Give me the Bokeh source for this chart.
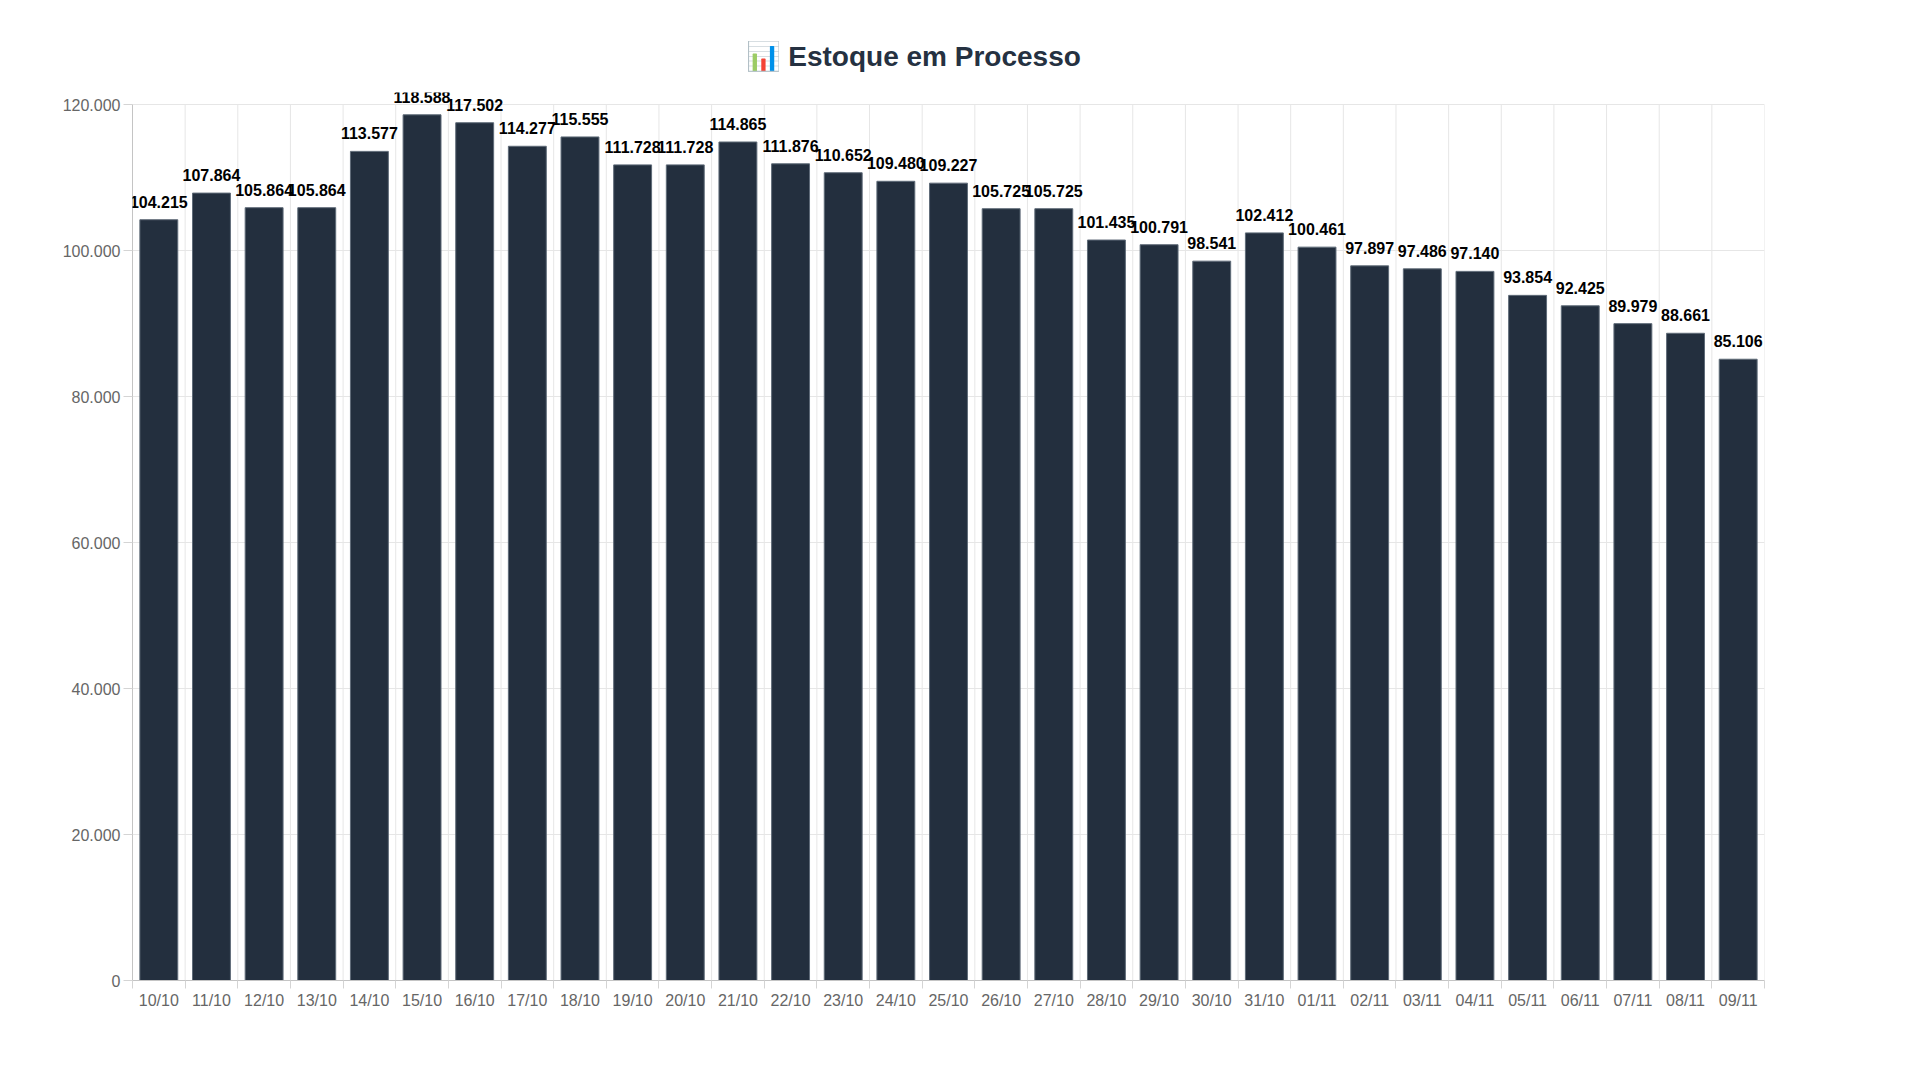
from bokeh.plotting import figure
from bokeh.models import ColumnDataSource, FixedTicker, Range1d, LabelSet, Title
from bokeh.core.properties import value
from bokeh.embed import file_html
from bokeh.resources import INLINE

dates = ["10/10", "11/10", "12/10", "13/10", "14/10", "15/10", "16/10", "17/10",
         "18/10", "19/10", "20/10", "21/10", "22/10", "23/10", "24/10", "25/10",
         "26/10", "27/10", "28/10", "29/10", "30/10", "31/10", "01/11", "02/11",
         "03/11", "04/11", "05/11", "06/11", "07/11", "08/11", "09/11"]
estoque = [104215, 107864, 105864, 105864, 113577, 118588, 117502, 114277,
           115555, 111728, 111728, 114865, 111876, 110652, 109480, 109227,
           105725, 105725, 101435, 100791, 98541, 102412, 100461, 97897,
           97486, 97140, 93854, 92425, 89979, 88661, 85106]
y_ticks = [0, 20000, 40000, 60000, 80000, 100000, 120000]
y_tick_labels = ["0", "20.000", "40.000", "60.000", "80.000", "100.000", "120.000"]
y_max = 120000

def fmt(v):
    return f"{v:,}".replace(",", ".")

n = len(dates)
centers = [i + 0.5 for i in range(n)]
bounds = [float(i) for i in range(n + 1)]

# frame: axis area 876 px tall, plus 12 px headroom where value labels may show
axis_px = 876
head_px = 12
y_end = y_max * (axis_px + head_px) / axis_px

src = ColumnDataSource(dict(x=centers, y=estoque, lab=[fmt(v) for v in estoque]))
gsrc = ColumnDataSource(dict(x=bounds, y0=[0] * len(bounds), y1=[y_max] * len(bounds)))

p = figure(width=1904, height=1064, output_backend="svg", toolbar_location=None,
           x_range=Range1d(0, n), y_range=Range1d(0, y_end),
           min_border_left=132, min_border_right=140, min_border_top=92,
           min_border_bottom=84)
p.outline_line_color = None
p.background_fill_color = "white"
p.border_fill_color = "white"

FONT = "Liberation Sans"
t = Title(text="📊 Estoque em Processo", align="left", offset=613,
          text_font=FONT, text_font_size="28px", text_font_style="bold",
          text_color="#253141", standoff=41)
p.add_layout(t, "above")

# vertical grid lines at category boundaries (stop at the top tick)
p.segment(x0="x", y0="y0", x1="x", y1="y1", source=gsrc,
          line_color="#e6e6e6", line_width=1, level="underlay")

p.vbar(x="x", top="y", width=0.72, source=src, fill_color="#232f3e",
       line_color="#5f6b78", line_width=1)

labels = LabelSet(x="x", y="y", text="lab", source=src, text_align="center",
                  text_baseline="alphabetic", y_offset=12,
                  text_font=value(FONT), text_font_size=value("16px"),
                  text_font_style="bold", text_color="#000000")
p.add_layout(labels)

xt = FixedTicker(ticks=centers, minor_ticks=bounds)
p.xaxis.ticker = xt
p.xaxis.major_label_overrides = {c: d for c, d in zip(centers, dates)}
p.xaxis.major_tick_line_color = None
p.xaxis.major_tick_out = 8
p.xaxis.major_tick_in = 0
p.xaxis.minor_tick_line_color = "#d4d4d4"
p.xaxis.minor_tick_out = 8
p.xaxis.minor_tick_in = 0
p.xaxis.axis_line_color = "#c4c4c4"
p.xaxis.major_label_standoff = 3
p.xaxis.major_label_text_font = FONT
p.xaxis.major_label_text_font_size = "16px"
p.xaxis.major_label_text_color = "#666666"

p.yaxis.ticker = FixedTicker(ticks=y_ticks, minor_ticks=[])
p.yaxis.bounds = (0, y_max)
p.yaxis.major_label_overrides = {v: s for v, s in zip(y_ticks, y_tick_labels)}
p.yaxis.major_tick_out = 9
p.yaxis.major_tick_in = 0
p.yaxis.major_tick_line_color = "#d4d4d4"
p.yaxis.minor_tick_line_color = None
p.yaxis.axis_line_color = "#c4c4c4"
p.yaxis.major_label_standoff = 3
p.yaxis.major_label_text_font = FONT
p.yaxis.major_label_text_font_size = "16px"
p.yaxis.major_label_text_color = "#666666"

p.xgrid.grid_line_color = None
p.xgrid.minor_grid_line_color = None
p.ygrid.ticker = FixedTicker(ticks=y_ticks, minor_ticks=[])
p.ygrid.grid_line_color = "#e6e6e6"

open("out.html", "w").write(file_html(p, INLINE))
